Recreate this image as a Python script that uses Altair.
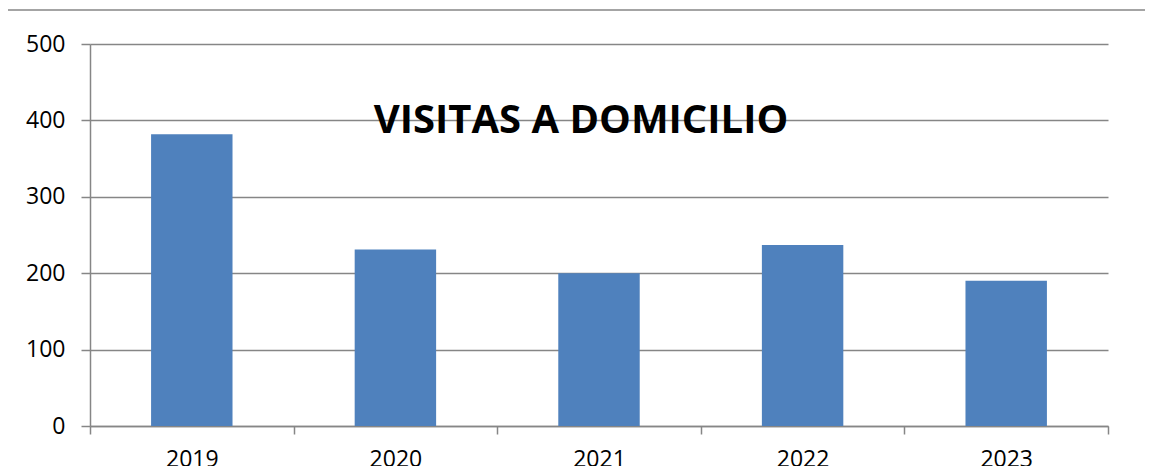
import altair as alt
import pandas as pd

years = ["2019", "2020", "2021", "2022", "2023"]
visitas = [382, 231, 200, 237, 190]
title_text = ["VISITAS A DOMICILIO"]

df = pd.DataFrame({"year": years, "visitas": visitas})

GRID = "#868686"
W, H = 1018, 382

bars = alt.Chart(df).mark_bar(
    color="#4F81BD", width=alt.RelativeBandSize(0.4)
).encode(
    x=alt.X("year:N", sort=years, title=None,
            scale=alt.Scale(paddingInner=0, paddingOuter=0),
            axis=alt.Axis(labelAngle=0, tickBand="extent", tickSize=8,
                          labelPadding=14, labelFontSize=23, labelFont="Open Sans",
                          labelColor="black", domainColor=GRID, tickColor=GRID,
                          domainWidth=1.5, tickWidth=1.5, grid=False)),
    y=alt.Y("visitas:Q", title=None,
            scale=alt.Scale(domain=[0, 500], nice=False),
            axis=alt.Axis(values=[0, 100, 200, 300, 400, 500], tickSize=9,
                          labelPadding=16, labelFontSize=23, labelFont="Open Sans",
                          labelColor="black", domainColor=GRID, tickColor=GRID,
                          gridColor=GRID, gridWidth=1.5, domainWidth=1.5, tickWidth=1.5,
                          grid=True)),
)

title = alt.Chart(pd.DataFrame({"t": title_text})).mark_text(
    font="Open Sans", fontWeight="bold", fontSize=40, color="black",
    align="center", baseline="middle"
).encode(text="t:N", x=alt.value(491), y=alt.value(77))

frame = alt.Chart(pd.DataFrame({"t": title_text})).mark_rect(
    fill=None, stroke=GRID, strokeWidth=1.5
).encode(x=alt.value(-83), y=alt.value(-34), x2=alt.value(W + 200), y2=alt.value(H + 200))

chart = alt.layer(frame, bars, title).properties(
    width=W, height=H,
    autosize=alt.AutoSizeParams(type="none"),
    padding={"left": 82, "top": 36, "right": 37, "bottom": 40},
).configure_view(stroke=None)

chart.save("out.html", embed_options={"renderer": "svg", "actions": False})
